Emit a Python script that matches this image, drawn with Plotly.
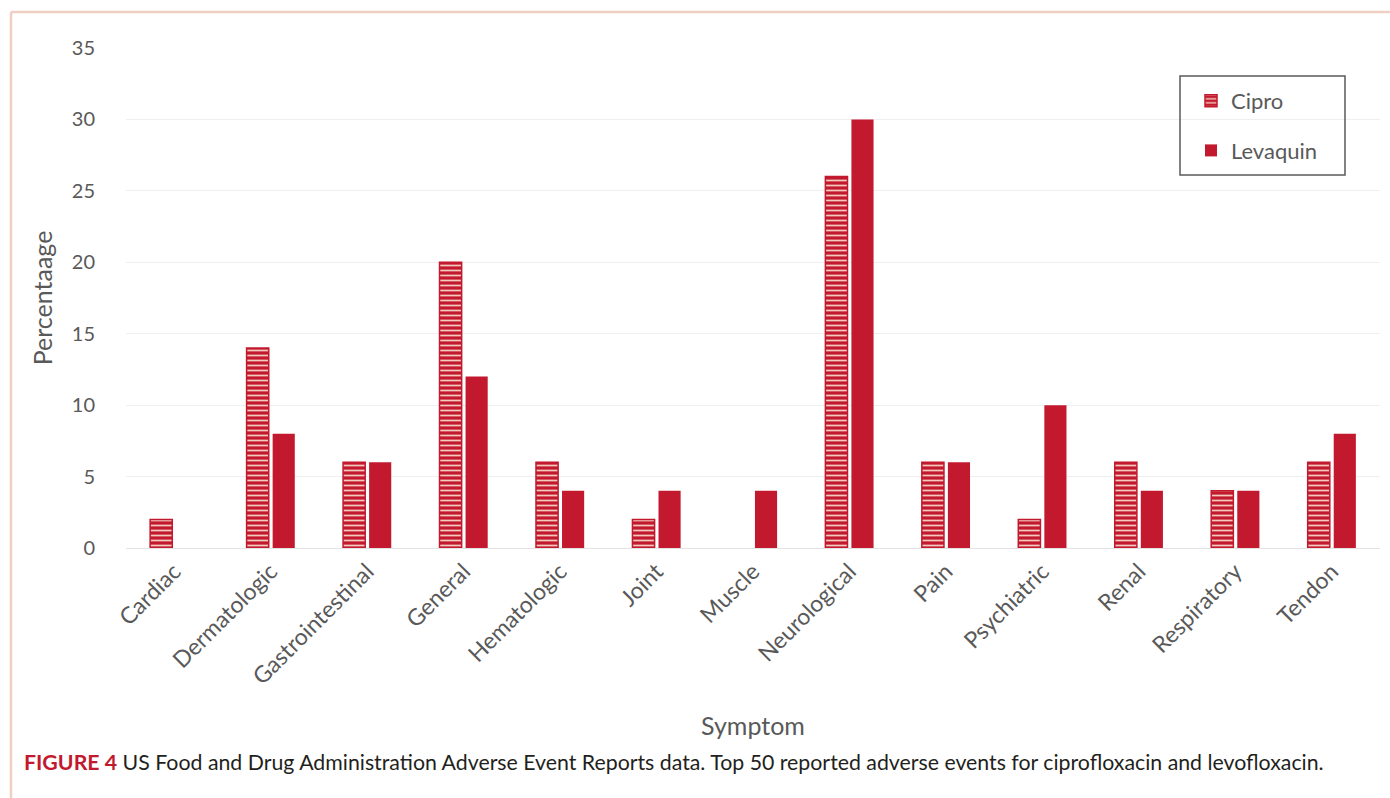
import plotly.graph_objects as go

categories = ["Cardiac", "Dermatologic", "Gastrointestinal", "General", "Hematologic",
              "Joint", "Muscle", "Neurological", "Pain", "Psychiatric", "Renal",
              "Respiratory", "Tendon"]
cipro = [2, 14, 6, 20, 6, 2, 0, 26, 6, 2, 6, 4, 6]
levaquin = [0, 8, 6, 12, 4, 4, 4, 30, 6, 10, 4, 4, 8]
y_ticks = [0, 5, 10, 15, 20, 25, 30, 35]

RED = "#c2192e"
TXT = "#595959"
FONT = "Lato"

W, H = 1390, 798
L, R, T, B = 126, 10, 48, 250
PW, PH = W - L - R, H - T - B


def px(x):
    return (x - L) / PW


def py(y):
    return (H - B - y) / PH


fig = go.Figure()
fig.add_trace(go.Bar(
    x=categories, y=cipro, name="Cipro", legendgroup="a",
    marker=dict(color=RED, line=dict(color=RED, width=[1.5 if v > 0 else 0 for v in cipro]),
                pattern=dict(shape="-", fgcolor="#f3c9bf", bgcolor=RED,
                             size=5, solidity=0.35, fillmode="replace")),
))
fig.add_trace(go.Bar(
    x=categories, y=levaquin, name="Levaquin", legendgroup="b",
    marker=dict(color=RED, line=dict(width=0)),
))

fig.update_layout(
    width=W, height=H,
    margin=dict(l=L, r=R, t=T, b=B),
    paper_bgcolor="white", plot_bgcolor="white",
    barmode="group", bargap=0.46, bargroupgap=0.15,
    font=dict(family=FONT, color=TXT, size=20),
    showlegend=True,
    legend=dict(x=px(1191), y=py(80), xanchor="left", yanchor="top",
                borderwidth=0, bgcolor="rgba(0,0,0,0)",
                font=dict(size=22, color=TXT, family=FONT),
                tracegroupgap=18, itemwidth=30),
    xaxis=dict(tickangle=-45, showgrid=False, showline=True, linecolor="#e3e3e3",
               ticks="", tickfont=dict(size=23, color=TXT), automargin=False,
               title=dict(text="Symptom", font=dict(size=25, color=TXT), standoff=28)),
    yaxis=dict(range=[0, 35], tickvals=y_ticks, showgrid=True, gridcolor="#efefef",
               zeroline=False, ticks="", tickfont=dict(size=20, color=TXT),
               ticklabelstandoff=30, automargin=False,
               title=dict(text="Percentaage", font=dict(size=25, color=TXT), standoff=12)),
)

# legend box
fig.add_shape(type="rect", xref="paper", yref="paper", x0=px(1180), x1=px(1345),
              y0=py(76), y1=py(175), line=dict(color="#5a5a5a", width=1.5),
              fillcolor="rgba(0,0,0,0)", layer="above")

# frame lines
fig.add_shape(type="line", xref="paper", yref="paper", x0=px(11), x1=px(1390),
              y0=py(12), y1=py(12), line=dict(color="#efcfc4", width=2.5))
fig.add_shape(type="line", xref="paper", yref="paper", x0=px(11), x1=px(11),
              y0=py(12), y1=py(798), line=dict(color="#efcfc4", width=2.5))

fig.add_annotation(
    xref="paper", yref="paper", x=px(22), y=py(762), xanchor="left", yanchor="middle",
    showarrow=False,
    text="<b><span style='color:#c2192e'>FIGURE 4</span></b> US Food and Drug Administration Adverse Event Reports data. Top 50 reported adverse events for ciprofloxacin and levofloxacin.",
    font=dict(family="Lato", size=21.3, color="#231f20"),
)

fig.write_html("out.html")
